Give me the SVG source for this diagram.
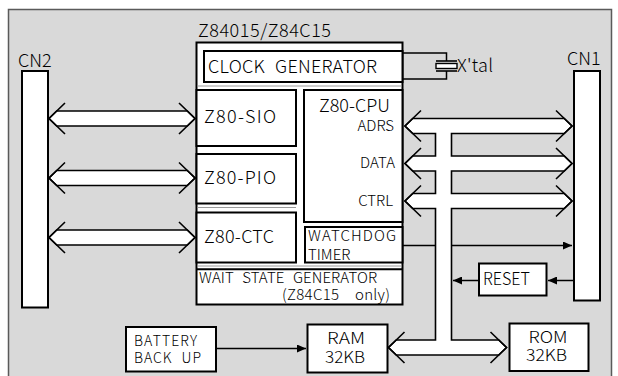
<svg xmlns="http://www.w3.org/2000/svg" width="618" height="376" viewBox="0 0 618 376">
<defs>
<style>
text{font-family:"Noto Sans CJK JP","Noto Sans",sans-serif;font-weight:300;fill:#000}
.b{fill:#fff;stroke:#000;stroke-width:2}
.t18{font-size:18px}
.t17{font-size:17px}
.t16{font-size:16px}
.t15{font-size:15px}
.t14{font-size:14px}
.bus{fill:#fff;stroke:#000;stroke-width:1.6;stroke-linejoin:miter}
.chev{fill:none;stroke:#000;stroke-width:1.6}
.ln{fill:none;stroke:#000;stroke-width:1.5}
.sep{stroke:#9a9a9a;stroke-width:1}
</style>
<marker id="ah" markerUnits="userSpaceOnUse" markerWidth="10" markerHeight="8" refX="9" refY="4" orient="auto">
<path d="M0,0 L9,4 L0,8 z" fill="#000"/>
</marker>
<g id="lbus">
<polygon class="bus" points="49,0 56.7,-7.5 187.3,-7.5 195,0 187.3,7.5 56.7,7.5"/>
<path class="chev" d="M65,-15.5 L49,0 L65,15.5 M179,-15.5 L195,0 L179,15.5"/>
</g>
</defs>

<rect x="8.5" y="9.5" width="603" height="380" fill="#d9d9d9" stroke="#5a5a5a" stroke-width="1.5"/>

<g id="connectors">
<path class="ln" d="M402,245.5 H572" marker-end="url(#ah)"/>
<path class="ln" d="M574,280.5 H548" marker-end="url(#ah)"/>
<path class="ln" d="M479,280.5 H453" marker-end="url(#ah)"/>
<path class="ln" d="M216,348.5 H306" marker-end="url(#ah)"/>
<path class="ln" d="M402,53 H446.5 V61 M402,79 H446.5 V71"/>
<use href="#lbus" transform="translate(0,118.5)"/>
<use href="#lbus" transform="translate(0,178)"/>
<use href="#lbus" transform="translate(0,237.5)"/>
<polygon class="bus" points="405,126 412.7,118.5 564.3,118.5 572,126 564.3,133.5 451.5,133.5 451.5,156 564.3,156 572,163.5 564.3,171 451.5,171 451.5,193.5 564.3,193.5 572,201 564.3,208.5 451.5,208.5 451.5,340 498.8,340 506.5,347.5 498.8,355 396.2,355 388.5,347.5 396.2,340 435.5,340 435.5,208.5 412.7,208.5 405,201 412.7,193.5 435.5,193.5 435.5,171 412.7,171 405,163.5 412.7,156 435.5,156 435.5,133.5 412.7,133.5"/>
<path class="chev" d="M421,110.5 L405,126 L421,141.5 M556,110.5 L572,126 L556,141.5 M421,148 L405,163.5 L421,179 M556,148 L572,163.5 L556,179 M421,185.5 L405,201 L421,216.5 M556,185.5 L572,201 L556,216.5 M404.5,332 L388.5,347.5 L404.5,363 M490.5,332 L506.5,347.5 L490.5,363"/>
</g>

<g id="cn2">
<text class="t18" x="18" y="66.5">CN2</text>
<rect class="b" x="22" y="71" width="26" height="236.5"/>
</g>

<g id="cn1">
<text class="t18" x="567" y="65">CN1</text>
<rect class="b" x="574" y="71" width="26" height="229.5"/>
</g>

<g id="chip">
<text class="t18" x="198" y="37" textLength="133" lengthAdjust="spacing">Z84015/Z84C15</text>
<rect class="b" x="196.5" y="42.5" width="206" height="262"/>
<line class="sep" x1="197.5" y1="86" x2="401.5" y2="86"/>
<line class="sep" x1="197.5" y1="207.5" x2="296" y2="207.5"/>
<line class="sep" x1="197.5" y1="266" x2="401.5" y2="266"/>
<g id="clock">
<rect class="b" x="204" y="51" width="198.5" height="31"/>
<text class="t18" x="208" y="73" textLength="169" lengthAdjust="spacing" style="word-spacing:6px">CLOCK GENERATOR</text>
</g>
<g id="sio">
<rect class="b" x="196.5" y="90" width="99.5" height="56"/>
<text class="t18" x="204" y="123" textLength="72" lengthAdjust="spacing">Z80-SIO</text>
</g>
<g id="pio">
<rect class="b" x="196.5" y="154" width="99.5" height="49.5"/>
<text class="t18" x="204" y="183.5" textLength="72" lengthAdjust="spacing">Z80-PIO</text>
</g>
<g id="ctc">
<rect class="b" x="196.5" y="212.5" width="99.5" height="50"/>
<text class="t18" x="204" y="243.3" textLength="70" lengthAdjust="spacing">Z80-CTC</text>
</g>
<g id="cpu">
<rect class="b" x="304" y="90" width="98.5" height="132"/>
<text class="t18" x="319" y="111.5" textLength="71" lengthAdjust="spacing">Z80-CPU</text>
<text class="t15" x="394" y="130.5" text-anchor="end">ADRS</text>
<text class="t15" x="395" y="167.7" text-anchor="end">DATA</text>
<text class="t15" x="393" y="206" text-anchor="end">CTRL</text>
</g>
<g id="watchdog">
<rect class="b" x="305" y="227" width="97.5" height="35.5"/>
<text class="t15" x="308" y="241" textLength="88" lengthAdjust="spacing">WATCHDOG</text>
<text class="t15" x="308" y="259.5">TIMER</text>
</g>
<g id="wait">
<line x1="196.5" y1="269.3" x2="402.5" y2="269.3" stroke="#000" stroke-width="2"/>
<text class="t15" x="199" y="282.5" textLength="178" lengthAdjust="spacing" style="word-spacing:5px">WAIT STATE GENERATOR</text>
<text class="t15" x="282" y="299.5" textLength="108" lengthAdjust="spacing" style="word-spacing:12px">(Z84C15 only)</text>
</g>
</g>

<g id="xtal">
<line x1="436" y1="61" x2="457" y2="61" stroke="#000" stroke-width="1.6"/>
<rect x="436" y="63.5" width="21" height="5" fill="#fff" stroke="#000" stroke-width="1.4"/>
<line x1="436" y1="71" x2="457" y2="71" stroke="#000" stroke-width="1.6"/>
<text class="t18" x="457" y="71.5" textLength="36" lengthAdjust="spacing">X'tal</text>
</g>

<g id="reset">
<rect class="b" x="479" y="263.5" width="67.5" height="32"/>
<text class="t17" x="483" y="285.3" textLength="47" lengthAdjust="spacingAndGlyphs">RESET</text>
</g>

<g id="battery">
<rect class="b" x="126" y="327" width="90" height="44.5"/>
<text class="t14" x="134" y="345.5" textLength="63" lengthAdjust="spacing">BATTERY</text>
<text class="t14" x="134" y="363" textLength="67" lengthAdjust="spacing" style="word-spacing:5px">BACK UP</text>
</g>

<g id="ram">
<rect class="b" x="307.5" y="324.5" width="80" height="48"/>
<text class="t16" x="327" y="344" textLength="38" lengthAdjust="spacingAndGlyphs">RAM</text>
<text class="t16" x="325" y="363" textLength="40" lengthAdjust="spacingAndGlyphs">32KB</text>
</g>

<g id="rom">
<rect class="b" x="509.5" y="323.5" width="79" height="47.5"/>
<text class="t16" x="528.5" y="343" textLength="39" lengthAdjust="spacingAndGlyphs">ROM</text>
<text class="t16" x="526" y="361" textLength="41" lengthAdjust="spacingAndGlyphs">32KB</text>
</g>
</svg>
